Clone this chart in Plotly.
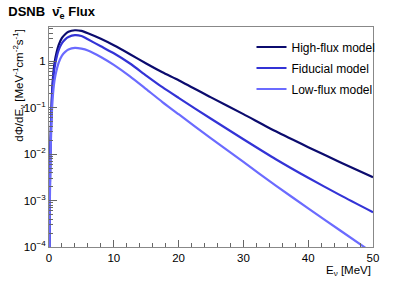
import plotly.graph_objects as go

energy = [0.05, 0.1, 0.2, 0.3, 0.5, 0.75, 1, 1.5, 2, 2.5, 3, 4, 5, 6, 8, 10,
          12.5, 15, 17.5, 20, 25, 30, 35, 40, 45, 50]

high_flux = [3.2e-5, 6.3e-4, 1.0e-2, 4.0e-2, 0.25, 0.71, 1.2, 2.24, 3.16, 3.8,
             4.27, 4.62, 4.47, 3.98, 3.02, 2.19, 1.41, 0.89, 0.575, 0.389,
             0.166, 0.0724, 0.0309, 0.0141, 0.0066, 0.00316]

fiducial = [2.5e-5, 5e-4, 8e-3, 3.2e-2, 0.2, 0.55, 0.93, 1.74, 2.45, 2.95,
            3.31, 3.63, 3.47, 2.95, 2.09, 1.48, 0.89, 0.49, 0.275, 0.162,
            0.0575, 0.0209, 0.00776, 0.00309, 0.00129, 0.00056]

low_flux = [1.6e-5, 3.2e-4, 5e-3, 2e-2, 0.112, 0.30, 0.50, 0.93, 1.32, 1.58,
            1.78, 1.93, 1.86, 1.70, 1.23, 0.83, 0.47, 0.25, 0.132, 0.072,
            0.0219, 0.00676, 0.00209, 0.00068, 0.000224, 7.4e-5]

series_names = ["High-flux model", "Fiducial model", "Low-flux model"]
series_colors = ["#0b0b6e", "#3333d6", "#6b6bff"]

y_tickvals = [1e-4, 1e-3, 1e-2, 1e-1, 1]
y_ticktext = ["10<sup>\u22124</sup>", "10<sup>\u22123</sup>", "10<sup>\u22122</sup>",
              "10<sup>\u22121</sup>", "1"]
x_tickvals = [0, 10, 20, 30, 40, 50]

FONT = "Liberation Sans, Arial, sans-serif"

fig = go.Figure()
for i, (name, vals, col) in enumerate(zip(series_names, [high_flux, fiducial, low_flux], series_colors)):
    fig.add_trace(go.Scatter(x=energy, y=vals, mode="lines", name=name, legendgroup=f"g{i}",
                             line=dict(color=col, width=2.2, shape="spline", smoothing=0.6)))

minor_y = []
for d in [1e-4, 1e-3, 1e-2, 1e-1, 1]:
    for k in range(2, 10):
        v = d * k
        if v < 5.5:
            minor_y.append(v)

fig.update_layout(
    width=415, height=281,
    margin=dict(l=49, r=42, t=27, b=34, autoexpand=False),
    paper_bgcolor="white", plot_bgcolor="white",
    font=dict(family=FONT, size=11, color="black"),
    showlegend=True,
    legend=dict(x=0.625, y=0.975, xanchor="left", yanchor="top",
                bgcolor="rgba(0,0,0,0)", font=dict(size=12),
                tracegroupgap=2, itemwidth=30),
    title=dict(text="<b>DSNB  \u03bd\u0304<sub>e</sub> Flux</b>", x=0.02, xanchor="left",
               yref="container", y=0.975, yanchor="top", font=dict(size=13, family=FONT)),
)

fig.update_xaxes(range=[0, 50], tickvals=x_tickvals, ticks="inside", ticklen=7,
                 tickcolor="#666", showline=True, linecolor="#888", linewidth=1,
                 mirror=True, showgrid=False, zeroline=False, automargin=False,
                 tickfont=dict(size=11.5),
                 minor=dict(ticks="inside", ticklen=4, tickcolor="#666", dtick=2,
                            showgrid=False))
fig.update_yaxes(type="log", range=[-4, 0.735], tickvals=y_tickvals, ticktext=y_ticktext,
                 ticks="inside", ticklen=8, tickcolor="#666", showline=True,
                 linecolor="#888", linewidth=1, mirror=True, showgrid=False,
                 zeroline=False, automargin=False, tickfont=dict(size=11.5),
                 minor=dict(ticks="inside", ticklen=4, tickcolor="#666",
                            tickmode="array", tickvals=minor_y, showgrid=False))

fig.add_annotation(text="d\u03a6/dE<sub>\u03bd</sub> [MeV<sup>-1</sup>cm<sup>-2</sup>s<sup>-1</sup>]",
                   xref="paper", yref="paper", x=-0.095, y=1.0, xanchor="center",
                   yanchor="top", textangle=-90, showarrow=False,
                   font=dict(size=11.5, family=FONT))
fig.add_annotation(text="E<sub>\u03bd</sub> [MeV]", xref="paper", yref="paper",
                   x=1.0, y=-0.07, xanchor="right", yanchor="top", showarrow=False,
                   font=dict(size=11.5, family=FONT))

fig.write_html("out.html", config={"displayModeBar": False},
               post_script="document.body.style.margin='0';document.body.style.overflow='hidden';")
